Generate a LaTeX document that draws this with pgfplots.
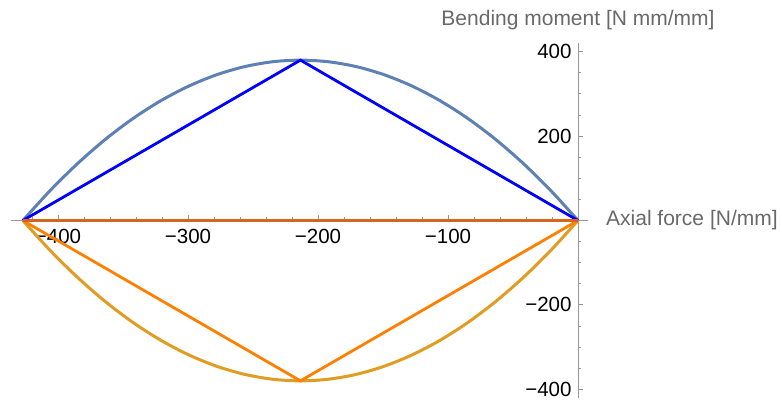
\documentclass[border=0pt]{standalone}
\usepackage{fontspec}
\setmainfont{Liberation Sans}
\usepackage{pgfplots}
\pgfplotsset{compat=1.18}
\usetikzlibrary{calc}
\definecolor{mblue}{RGB}{94,129,181}
\definecolor{morange}{RGB}{225,156,36}
\definecolor{pblue}{RGB}{0,0,255}
\definecolor{porange}{RGB}{255,128,0}
\definecolor{dorange}{RGB}{214,100,30}
\definecolor{axgray}{RGB}{150,150,150}
\definecolor{labgray}{RGB}{105,105,105}
\begin{document}
\begin{tikzpicture}
\begin{axis}[
  x=1.3pt, y=0.422pt,
  axis lines=middle,
  xmin=-436, xmax=8, ymin=-420, ymax=421,
  axis line style={draw=axgray, line width=0.9pt, -},
  xtick={-400,-300,-200,-100},
  xticklabels={−400,−300,−200,−100},
  minor xtick={-420,-380,-360,-340,-320,-280,-260,-240,-220,-180,-160,-140,-120,-80,-60,-40,-20},
  ytick={-400,-200,200,400},
  yticklabels={−400,−200,200,400},
  minor ytick={-350,-300,-250,-150,-100,-50,50,100,150,250,300,350},
  tick align=inside,
  major tick length=5pt, minor tick length=3pt,
  tick style={axgray, line width=0.8pt},
  ticklabel style={font=\fontsize{20.5}{24}\selectfont, text=black},
  xticklabel style={anchor=north, yshift=-5pt},
  yticklabel style={anchor=east, xshift=-3pt},
  clip=false,
]
\addplot[mblue, line width=3pt, smooth] coordinates {
(-427,0) (-405.65,72.2) (-384.3,136.8) (-362.95,193.8) (-341.6,243.2) (-320.25,285)
(-298.9,319.2) (-277.55,345.8) (-256.2,364.8) (-234.85,376.2) (-213.5,380)
(-192.15,376.2) (-170.8,364.8) (-149.45,345.8) (-128.1,319.2) (-106.75,285)
(-85.4,243.2) (-64.05,193.8) (-42.7,136.8) (-21.35,72.2) (0,0)};
\addplot[pblue, line width=2.8pt] coordinates {(-427,0) (-213.5,380) (0,0)};
\addplot[morange, line width=3pt, smooth] coordinates {
(-427,0) (-405.65,-72.2) (-384.3,-136.8) (-362.95,-193.8) (-341.6,-243.2) (-320.25,-285)
(-298.9,-319.2) (-277.55,-345.8) (-256.2,-364.8) (-234.85,-376.2) (-213.5,-380)
(-192.15,-376.2) (-170.8,-364.8) (-149.45,-345.8) (-128.1,-319.2) (-106.75,-285)
(-85.4,-243.2) (-64.05,-193.8) (-42.7,-136.8) (-21.35,-72.2) (0,0)};
\addplot[porange, line width=2.8pt] coordinates {(-427,0) (-213.5,-380) (0,0)};
\addplot[dorange, line width=3pt] coordinates {(-427,0) (0,0)};
\coordinate (O) at (axis cs:0,0);
\node[anchor=west, inner sep=0pt, text=labgray, font=\fontsize{21}{24}\selectfont] at (axis cs:21.5,0) {Axial force [N/mm]};
\node[anchor=base, inner sep=0pt, text=labgray, font=\fontsize{21}{24}\selectfont] at (axis cs:0,463) {Bending moment [N mm/mm]};
\end{axis}
\pgfresetboundingbox
\path[use as bounding box] ($(O)+(-578pt,-182.5pt)$) rectangle ($(O)+(204pt,220.5pt)$);
\end{tikzpicture}
\end{document}
